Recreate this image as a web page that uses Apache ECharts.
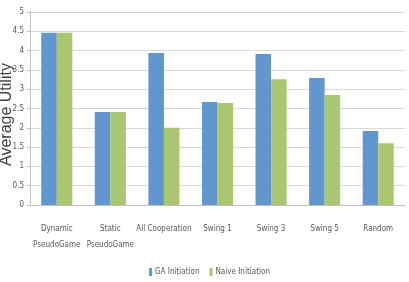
<!DOCTYPE html>
<html>
<head>
<meta charset="utf-8">
<script src="https://cdn.jsdelivr.net/npm/echarts@6/dist/echarts.min.js"></script>
<style>
  html, body { margin: 0; padding: 0; background: #fff; }
  #chart { width: 409px; height: 282px; }
</style>
</head>
<body>
<div id="chart"></div>
<script>
// strategies on the x axis
const categories = ['Dynamic\nPseudoGame', 'Static\nPseudoGame', 'All Cooperation', 'Swing 1', 'Swing 3', 'Swing 5', 'Random'];
// average utility per initiation method
const gaInitiation = [4.46, 2.41, 3.94, 2.67, 3.91, 3.29, 1.92];
const naiveInitiation = [4.46, 2.41, 2.0, 2.64, 3.26, 2.85, 1.6];
const seriesNames = ['GA Initiation', 'Naive Initiation'];

const narrow = '"Liberation Sans Narrow", "DejaVu Sans Condensed", "Liberation Sans", sans-serif';
const chart = echarts.init(document.getElementById('chart'));

chart.setOption({
  animation: false,
  grid: { left: 30, right: 4, top: 12, bottom: 77, containLabel: false, outerBoundsMode: 'none' },
  legend: {
    data: seriesNames,
    top: 263,
    left: 144,
    itemWidth: 3,
    itemHeight: 8,
    itemGap: 10,
    icon: 'rect',
    textStyle: { fontFamily: narrow, fontSize: 8, color: '#595959', padding: [0, 0, 0, -2] }
  },
  xAxis: {
    type: 'category',
    data: categories,
    axisLine: { lineStyle: { color: '#bfbfbf' } },
    axisTick: { length: 4, lineStyle: { color: '#bfbfbf' } },
    axisLabel: {
      interval: 0,
      margin: 16,
      lineHeight: 16,
      fontFamily: narrow,
      fontSize: 8,
      color: '#595959'
    }
  },
  yAxis: {
    type: 'value',
    min: 0,
    max: 5,
    interval: 0.5,
    name: 'Average Utility',
    nameLocation: 'middle',
    nameGap: 15,
    nameMoveOverlap: false,
    nameTextStyle: {
      fontFamily: 'Liberation Sans, Arial, sans-serif',
      fontSize: 16,
      color: '#404040',
      padding: [0, 12, 0, 0]
    },
    axisLine: { show: true, lineStyle: { color: '#bfbfbf' } },
    axisTick: { show: true, length: 3, lineStyle: { color: '#bfbfbf' } },
    axisLabel: { fontFamily: narrow, fontSize: 8, color: '#595959', margin: 6 },
    splitLine: { lineStyle: { color: '#d9d9d9' } }
  },
  series: [
    {
      name: seriesNames[0],
      type: 'bar',
      data: gaInitiation,
      barGap: '0%',
      barCategoryGap: '42%',
      itemStyle: { color: '#6196CE' }
    },
    {
      name: seriesNames[1],
      type: 'bar',
      data: naiveInitiation,
      itemStyle: { color: '#A9C770' }
    }
  ]
});
</script>
</body>
</html>
